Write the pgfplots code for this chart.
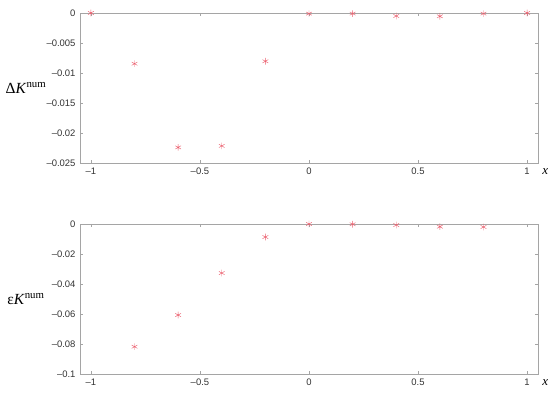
\documentclass[border=0pt]{standalone}
\usepackage{fontspec}
\setmainfont{Liberation Serif}
\newfontfamily\tickfont{Liberation Sans}
\usepackage{pgfplots}
\pgfplotsset{compat=1.18}

\definecolor{axisgray}{RGB}{165,165,165}
\definecolor{markred}{RGB}{235,95,110}

\pgfplotsset{
  panel/.style={
    scale only axis,
    width=458bp, height=150bp,
    xmin=-1.05, xmax=1.05,
    xtick={-1,-0.5,0,0.5,1},
    xticklabels={–1,–0.5,0,0.5,1},
    scaled y ticks=false,
    axis line style={axisgray, line width=0.5pt},
    tick style={axisgray, line width=0.5pt},
    tick align=inside,
    major tick length=3bp,
    ticklabel style={font=\tickfont\fontsize{9.5}{10}\selectfont, text=black!80},
    xticklabel style={yshift=-1bp},
    yticklabel style={xshift=-1bp},
    xlabel={\textit{x}},
    xlabel style={at={(axis description cs:1.016,0)}, anchor=north, yshift=-2bp,
      font=\fontsize{13}{14}\selectfont},
    ylabel style={rotate=-90, at={(axis description cs:-0.118,0.5)}, anchor=center,
      font=\fontsize{15.5}{16}\selectfont},
  },
  pts/.style={only marks, mark=asterisk, mark size=3.3bp, color=markred,
    mark options={line width=0.45pt}},
}

\begin{document}
\begin{tikzpicture}
\path[use as bounding box] (0,0) rectangle (550bp,393bp);

% top panel
\begin{axis}[panel,
  at={(80bp,230bp)}, anchor=south west,
  ymin=-0.025, ymax=0,
  ytick={-0.025,-0.02,-0.015,-0.01,-0.005,0},
  yticklabels={–0.025,–0.02,–0.015,–0.01,–0.005,0},
  ylabel={Δ\textit{K}\textsuperscript{num}},
]
\addplot[pts] coordinates {
  (-1,0) (-0.8,-0.00845) (-0.6,-0.0224) (-0.4,-0.02215) (-0.2,-0.00805)
  (0,-0.0001) (0.2,-0.0001) (0.4,-0.0005) (0.6,-0.00055) (0.8,-0.0001) (1,0)
};
\end{axis}

% bottom panel
\begin{axis}[panel,
  at={(80bp,19bp)}, anchor=south west,
  ymin=-0.1, ymax=0,
  ytick={-0.1,-0.08,-0.06,-0.04,-0.02,0},
  yticklabels={–0.1,–0.08,–0.06,–0.04,–0.02,0},
  ylabel={ε\textit{K}\textsuperscript{num}},
]
\addplot[pts] coordinates {
  (-0.8,-0.0818) (-0.6,-0.0607) (-0.4,-0.0327) (-0.2,-0.0087)
  (0,0) (0.2,-0.0002) (0.4,-0.0007) (0.6,-0.0018) (0.8,-0.002)
};
\end{axis}
\end{tikzpicture}
\end{document}
